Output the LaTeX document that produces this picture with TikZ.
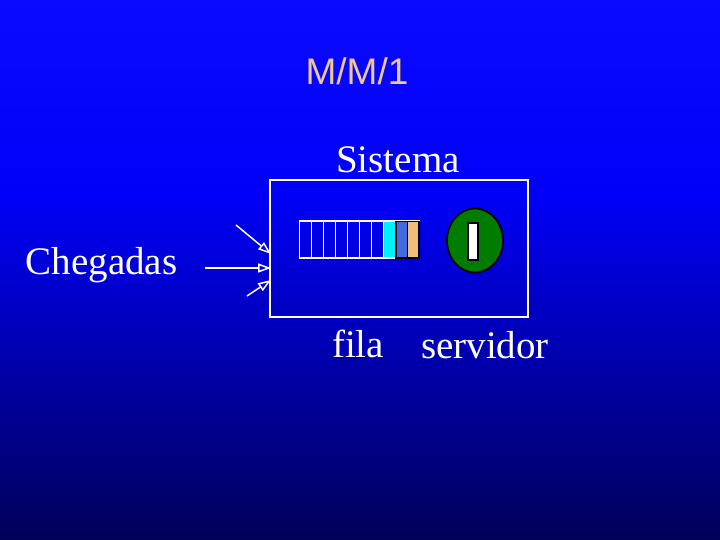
\documentclass[tikz,border=0pt]{standalone}
\usepackage{fontspec}
\setmainfont{Liberation Serif}
\newfontfamily\titlefont{Liberation Sans}
\usetikzlibrary{arrows.meta}

\definecolor{bgtop}{RGB}{10,10,255}
\definecolor{bgmid}{RGB}{0,0,248}
\definecolor{bgbot}{RGB}{0,0,88}
\definecolor{titletan}{RGB}{240,200,150}
\definecolor{cellcyan}{RGB}{0,240,255}
\definecolor{cellblue}{RGB}{65,105,225}
\definecolor{celltan}{RGB}{240,190,120}
\definecolor{servgreen}{RGB}{0,125,0}

\pgfdeclareverticalshading{fundo}{100bp}{color(0bp)=(bgbot); color(25bp)=(bgbot); color(57bp)=(bgmid); color(75bp)=(bgtop); color(100bp)=(bgtop)}

\tikzset{every picture/.style={line width=0.75pt}}
\tikzset{
  label text/.style={text=white,inner sep=0pt,anchor=base,font=\fontsize{39}{44}\selectfont},
  chegada/.style={draw=white,line width=1.5pt,-{Triangle[open,length=13pt,width=9pt,line width=1.5pt]}}
}

\begin{document}
\begin{tikzpicture}[x=1pt,y=1pt,yscale=-1,xscale=1]
\useasboundingbox (0,0) rectangle (720,540);

%Shape: Background
\shade [shading=fundo] (0,0) rectangle (720,540);

%Shape: Rectangle (sistema)
\draw [white, line width=1.75pt] (270,180) rectangle (528,317);

%Shape: Rectangle (fila)
\fill [cellcyan] (383.5,221) rectangle (395.5,258);
\draw [white, line width=1.75pt] (299.5,221) rectangle (419.5,258);
\foreach \k in {1,...,8} {
  \draw [white, line width=1.75pt] (299.5+12*\k,221) -- (299.5+12*\k,258);
}
\draw [black, fill=cellblue, line width=1.75pt] (396,221.5) rectangle (407.5,258);
\draw [black, fill=celltan, line width=1.75pt] (407.5,221.5) rectangle (419,258);

%Shape: Ellipse (servidor)
\draw [black, fill=servgreen, line width=1.75pt] (475,240.5) ellipse [x radius=28, y radius=32];
\draw [black, fill=white, line width=2pt] (468,223) rectangle (478,260);

%Straight Lines (chegadas)
\coordinate (a1) at (236,225);
\coordinate (b1) at (271,254);
\coordinate (a2) at (205,268);
\coordinate (b2) at (271,268);
\coordinate (a3) at (247,296);
\coordinate (b3) at (271,280);
\draw [chegada] (a1) -- (b1);
\draw [chegada] (a2) -- (b2);
\draw [chegada] (a3) -- (b3);

% Text Node
\node [text=titletan, inner sep=0pt, anchor=base, font=\titlefont\fontsize{37}{44}\selectfont] (titulo) at (357,85) {M/M/1};
% Text Node
\node [label text] (sistema) at (398,173) {Sistema};
% Text Node
\node [label text] (chegadas) at (101.5,274) {Chegadas};
% Text Node
\node [label text] (fila) at (358,357.5) {fila};
% Text Node
\node [label text] (servidor) at (485,358) {servidor};

\end{tikzpicture}
\end{document}
